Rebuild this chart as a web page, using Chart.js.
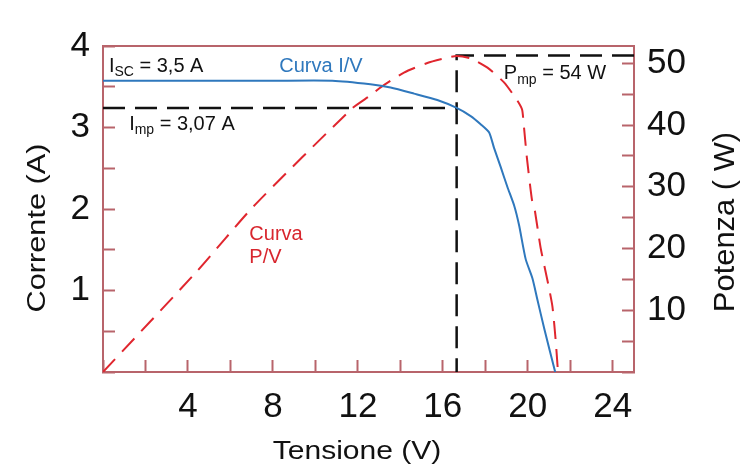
<!DOCTYPE html>
<html>
<head>
<meta charset="utf-8">
<script src="https://cdn.jsdelivr.net/npm/chart.js@4.4.1/dist/chart.umd.min.js"></script>
<style>
  html, body { margin: 0; padding: 0; background: #fff; }
  #wrap { width: 740px; height: 464px; }
</style>
</head>
<body>
<div id="wrap"><canvas id="chart" width="740" height="464"></canvas></div>
<script>
// curva I/V (tensione V, corrente A)
const ivVoltage = [0, 4, 8, 10.8, 12.59, 13.54, 14.64, 15.74, 16.65, 17.31, 17.78, 18.18, 18.41, 18.73, 19.04, 19.36, 19.59, 19.9, 20.22, 20.45, 20.77, 21.29];
const ivCurrent = [3.574, 3.574, 3.574, 3.574, 3.53, 3.49, 3.416, 3.337, 3.24, 3.14, 3.04, 2.94, 2.75, 2.51, 2.27, 2.04, 1.8, 1.385, 1.148, 0.89, 0.536, 0];

// curva P/V (tensione V, potenza W)
const pvVoltage = [0, 4.42, 7.08, 11.73, 12.59, 13.07, 14.17, 15.27, 16.2, 16.65, 17.31, 18.1, 18.88, 19.5, 19.73, 19.8, 19.96, 20.2, 20.3, 20.61, 20.93, 21.16, 21.32, 21.42];
const pvPower = [0, 16.3, 26.8, 42.7, 44.8, 46.1, 48.5, 50.05, 50.9, 51.2, 50.8, 49.3, 46.9, 44.0, 42.5, 40.4, 34.6, 27.8, 26.8, 20.0, 14.75, 10.6, 4.8, 0];

// punto di massima potenza (come disegnato)
const vmp = 16.65;
const impLine = 3.24;
const pmpLine = 51.25;

const xTicks = [0, 2, 4, 6, 8, 10, 12, 14, 16, 18, 20, 22, 24];
const xLabels = [4, 8, 12, 16, 20, 24];
const yTicks = [0, 0.5, 1, 1.5, 2, 2.5, 3, 3.5, 4];
const yLabels = [1, 2, 3, 4];
const pTicks = [0, 5, 10, 15, 20, 25, 30, 35, 40, 45, 50];
const pLabels = [10, 20, 30, 40, 50];

const axisColor = "#b8646b";
const tickFont = { family: "Liberation Sans", size: 35 };

function pairs(xs, ys) {
  return xs.map((v, i) => ({ x: v, y: ys[i] }));
}

function setTicks(list) {
  return scale => { scale.ticks = list.map(v => ({ value: v })); };
}

function drawSub(ctx, main, sub, rest, px, py) {
  ctx.font = "20px 'Liberation Sans'";
  ctx.fillText(main, px, py);
  let w = ctx.measureText(main).width;
  ctx.font = "14px 'Liberation Sans'";
  ctx.fillText(sub, px + w, py + 6);
  w += ctx.measureText(sub).width;
  ctx.font = "20px 'Liberation Sans'";
  ctx.fillText(rest, px + w, py);
}

function drawTitle(ctx, text, px, py, size, sx, rot) {
  ctx.save();
  ctx.translate(px, py);
  ctx.rotate(rot);
  ctx.scale(sx, 1);
  ctx.font = size + "px 'Liberation Sans'";
  ctx.textAlign = "center";
  ctx.textBaseline = "alphabetic";
  ctx.fillText(text, 0, 0);
  ctx.restore();
}

const textPlugin = {
  id: "testi",
  afterDatasetsDraw(chart) {
    const { ctx, scales: { x, y } } = chart;
    ctx.save();
    ctx.textBaseline = "middle";
    ctx.textAlign = "left";
    ctx.fillStyle = "#111";
    drawSub(ctx, "I", "SC", " = 3,5 A", x.getPixelForValue(0.28), y.getPixelForValue(3.75));
    drawSub(ctx, "I", "mp", " = 3,07 A", x.getPixelForValue(1.23), y.getPixelForValue(3.04));
    drawSub(ctx, "P", "mp", " = 54 W", x.getPixelForValue(18.87), y.getPixelForValue(3.66));
    ctx.font = "20px 'Liberation Sans'";
    ctx.fillStyle = "#2f78bd";
    ctx.fillText("Curva I/V", x.getPixelForValue(8.3), y.getPixelForValue(3.75));
    ctx.fillStyle = "#d8262e";
    ctx.fillText("Curva", x.getPixelForValue(6.89), y.getPixelForValue(1.69));
    ctx.fillText("P/V", x.getPixelForValue(6.89), y.getPixelForValue(1.41));
    ctx.fillStyle = "#111";
    drawTitle(ctx, "Tensione (V)", 357, 459, 26, 1.155, 0);
    drawTitle(ctx, "Corrente (A)", 45, 228, 26, 1.18, -Math.PI / 2);
    drawTitle(ctx, "Potenza ( W)", 734, 222, 30, 1.03, -Math.PI / 2);
    ctx.restore();
  }
};

const tickGrid = {
  drawOnChartArea: false,
  drawTicks: true,
  tickLength: -12,
  tickColor: axisColor,
  tickWidth: 2
};
const border = { display: true, color: axisColor, width: 2 };

new Chart(document.getElementById("chart"), {
  type: "line",
  data: {
    datasets: [
      {
        label: "Curva I/V",
        data: pairs(ivVoltage, ivCurrent),
        yAxisID: "y",
        borderColor: "#2f78bd",
        borderWidth: 2,
        pointRadius: 0,
        tension: 0.2
      },
      {
        label: "Curva P/V",
        data: pairs(pvVoltage, pvPower),
        yAxisID: "yR",
        borderColor: "#e0262e",
        borderWidth: 2,
        borderDash: [18, 10],
        pointRadius: 0,
        tension: 0.2
      },
      {
        label: "Imp",
        data: [{ x: 0, y: impLine }, { x: vmp, y: impLine }],
        yAxisID: "y",
        borderColor: "#111",
        borderWidth: 2.5,
        borderDash: [22, 10],
        pointRadius: 0
      },
      {
        label: "Pmp",
        data: [{ x: 25, y: pmpLine }, { x: vmp, y: pmpLine }, { x: vmp, y: 0 }],
        yAxisID: "yR",
        borderColor: "#111",
        borderWidth: 2.5,
        borderDash: [22, 10],
        pointRadius: 0
      }
    ]
  },
  options: {
    responsive: false,
    animation: false,
    layout: { padding: 0 },
    plugins: { legend: { display: false }, tooltip: { enabled: false } },
    scales: {
      x: {
        type: "linear",
        position: "bottom",
        min: 0,
        max: 25,
        afterBuildTicks: setTicks(xTicks),
        afterFit: s => { s.height = 92; },
        grid: tickGrid,
        border: border,
        ticks: {
          autoSkip: false,
          maxRotation: 0,
          padding: 26,
          color: "#111",
          font: tickFont,
          callback: v => xLabels.includes(v) ? String(v) : ""
        }
      },
      xTop: {
        type: "linear",
        position: "top",
        min: 0,
        max: 25,
        afterFit: s => { s.height = 34; },
        grid: { drawOnChartArea: false, drawTicks: false },
        border: border,
        ticks: { display: false }
      },
      y: {
        type: "linear",
        position: "left",
        min: 0,
        max: 4,
        afterBuildTicks: setTicks(yTicks),
        afterFit: s => { s.width = 103; },
        grid: tickGrid,
        border: border,
        ticks: {
          autoSkip: false,
          padding: 25,
          color: "#111",
          font: tickFont,
          callback: v => yLabels.includes(v) ? String(v) : ""
        }
      },
      yR: {
        type: "linear",
        position: "right",
        min: 0,
        max: 52.8,
        afterBuildTicks: setTicks(pTicks),
        afterFit: s => { s.width = 106; },
        grid: tickGrid,
        border: border,
        ticks: {
          autoSkip: false,
          padding: 25,
          color: "#111",
          font: tickFont,
          callback: v => pLabels.includes(v) ? String(v) : ""
        }
      }
    }
  },
  plugins: [textPlugin]
});
</script>
</body>
</html>
